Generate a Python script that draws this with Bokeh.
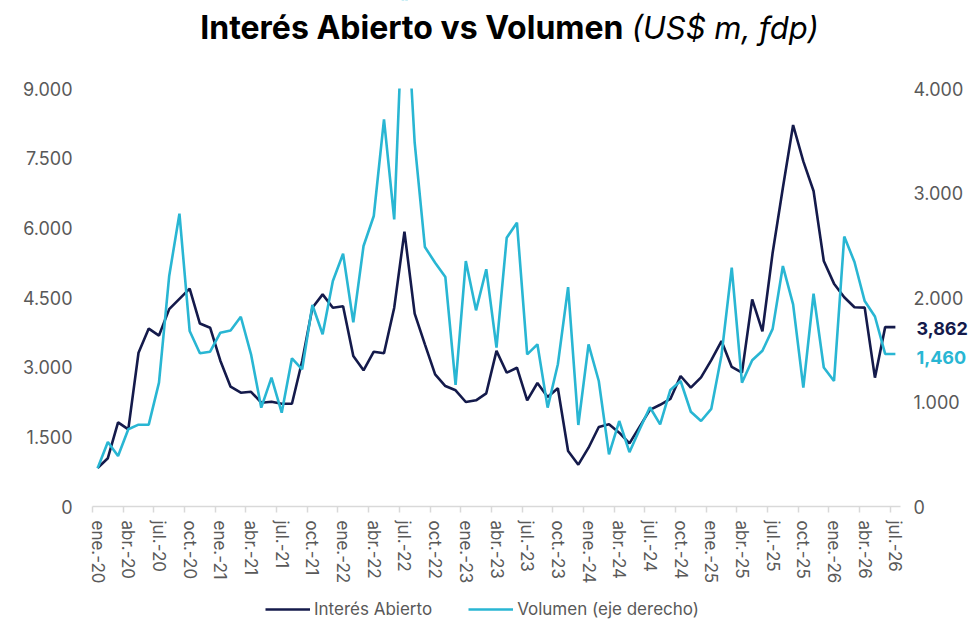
from bokeh.plotting import figure
from bokeh.models import Range1d, LinearAxis, FixedTicker, Label, Legend, LegendItem, BoxAnnotation
from bokeh.embed import file_html
from bokeh.resources import INLINE

# Monthly data, ene-20 .. jul-26
interes = [830, 1040, 1810, 1660, 3310, 3830, 3680, 4250, 4470, 4690, 3940, 3850,
           3140, 2580, 2450, 2470, 2235, 2257, 2213, 2213, 3133, 4281, 4568, 4281,
           4310, 3240, 2932, 3333, 3298, 4281, 5917, 4151, 3492, 2846, 2594, 2502,
           2250, 2286, 2437, 3350, 2881, 2988, 2286, 2659, 2358, 2545, 1195, 900,
           1266, 1712, 1769, 1589, 1360, 1720, 2080, 2190, 2315, 2810, 2558, 2780,
           3150, 3563, 3005, 2881, 4461, 3770, 5465, 6864, 8214, 7430, 6793, 5286,
           4798, 4505, 4290, 4281, 2774, 3862, 3862]
volumen = [366, 617, 483, 739, 783, 783, 1185, 2206, 2802, 1679, 1466, 1481,
           1663, 1685, 1816, 1456, 946, 1233, 898, 1418, 1313, 1928, 1648, 2158,
           2419, 1762, 2493, 2780, 3705, 2748, 5200, 3481, 2483, 2333, 2196, 1163,
           2349, 1877, 2270, 1520, 2572, 2716, 1456, 1552, 946, 1361, 2100, 780,
           1552, 1201, 499, 818, 520, 739, 950, 786, 1115, 1201, 907, 818,
           935, 1448, 2285, 1185, 1399, 1490, 1700, 2301, 1935, 1137, 2036, 1330,
           1201, 2583, 2340, 1966, 1818, 1460, 1460]
tick_labels = ["ene.-20", "abr.-20", "jul.-20", "oct.-20", "ene.-21", "abr.-21", "jul.-21",
               "oct.-21", "ene.-22", "abr.-22", "jul.-22", "oct.-22", "ene.-23", "abr.-23",
               "jul.-23", "oct.-23", "ene.-24", "abr.-24", "jul.-24", "oct.-24", "ene.-25",
               "abr.-25", "jul.-25", "oct.-25", "ene.-26", "abr.-26", "jul.-26"]
left_ticks = [0, 1500, 3000, 4500, 6000, 7500, 9000]
right_ticks = [0, 1000, 2000, 3000, 4000]
title_main = "Interés Abierto vs Volumen"
title_unit = "(US$ m, fdp)"
series_names = ["Interés Abierto", "Volumen (eje derecho)"]

n = len(interes)
x = list(range(n))
label_pos = [3 * i for i in range(len(tick_labels))]
bound_pos = [3 * i - 0.5 for i in range(len(tick_labels))]

NAVY = "#141a4b"
CYAN = "#29b6d3"
GRAY = "#595959"
AXIS = "#d9d9d9"
FONT = "Inter"

# Layout (pixels): the whole canvas is the drawing area; the data area sits inside it
W, H = 976, 622
LEFT, TOP = 92, 88
FW, FH = 808, 418
LMAX, RMAX = 9000, 4000

mw = FW / n
pl = LMAX / FH
pr = RMAX / FH
x_start = -0.5 - LEFT / mw
x_end = x_start + W / mw
below = H - TOP - FH


def fmt(v):
    return f"{v:,}".replace(",", ".")


p = figure(frame_width=W, frame_height=H, min_border=0,
           x_range=Range1d(x_start, x_end),
           y_range=Range1d(-below * pl, LMAX + TOP * pl),
           x_axis_location=None, y_axis_location=None,
           output_backend="svg", toolbar_location=None)
p.extra_y_ranges = {"vol": Range1d(-below * pr, RMAX + TOP * pr)}
p.outline_line_color = None
p.grid.visible = False

r1 = p.line(x, interes, line_color=NAVY, line_width=2.6)
r2 = p.line(x, volumen, line_color=CYAN, line_width=2.6, y_range_name="vol")

# values above the top of the scale are cut off, as in the original chart
p.add_layout(BoxAnnotation(bottom=LMAX, top=LMAX * 3, left=x_start - 5, right=x_end + 5,
                           fill_color="white", fill_alpha=1.0,
                           line_color=None, level="glyph"))

xa = LinearAxis(fixed_location=0, bounds=(-0.5, n - 0.5),
                ticker=FixedTicker(ticks=label_pos, minor_ticks=bound_pos),
                major_label_overrides={pos: lab for pos, lab in zip(label_pos, tick_labels)},
                major_label_orientation="vertical",
                major_tick_line_color=None, major_tick_out=6, major_tick_in=0,
                minor_tick_line_color=AXIS, minor_tick_out=6, minor_tick_in=0,
                minor_tick_line_width=1.5,
                axis_line_color=AXIS, axis_line_width=1.5,
                major_label_standoff=8, major_label_text_font=FONT,
                major_label_text_font_size="17px", major_label_text_color=GRAY)
p.add_layout(xa, "below")

ya = LinearAxis(fixed_location=-0.5, bounds=(0, LMAX),
                ticker=FixedTicker(ticks=left_ticks),
                major_label_overrides={tk: fmt(tk) for tk in left_ticks},
                axis_line_color=None, major_tick_line_color=None, minor_tick_line_color=None,
                major_label_standoff=14, major_label_text_font=FONT,
                major_label_text_font_size="18px", major_label_text_color=GRAY)
p.add_layout(ya, "left")

ra = LinearAxis(y_range_name="vol", fixed_location=n - 0.5, bounds=(0, RMAX),
                ticker=FixedTicker(ticks=right_ticks),
                major_label_overrides={tk: fmt(tk) for tk in right_ticks},
                axis_line_color=None, major_tick_line_color=None, minor_tick_line_color=None,
                major_label_standoff=7, major_label_text_font=FONT,
                major_label_text_font_size="18px", major_label_text_color=GRAY)
p.add_layout(ra, "right")

# End-value labels
p.add_layout(Label(x=x[-1], y=interes[-1], x_offset=21, y_offset=-1,
                   text=f"{interes[-1]:,}", text_font=FONT, text_font_size="18px",
                   text_font_style="bold", text_color=NAVY, text_baseline="middle"))
p.add_layout(Label(x=x[-1], y=volumen[-1], y_range_name="vol", x_offset=21, y_offset=-4,
                   text=f"{volumen[-1]:,}", text_font=FONT, text_font_size="18px",
                   text_font_style="bold", text_color=CYAN, text_baseline="middle"))

# Title (bold + italic parts)
p.add_layout(Label(x=623, y=H - 27, x_units="screen", y_units="screen",
                   text=title_main, text_font=FONT, text_font_size="32px",
                   text_font_style="bold", text_color="black", text_align="right",
                   text_baseline="middle"))
p.add_layout(Label(x=631, y=H - 27, x_units="screen", y_units="screen",
                   text=title_unit, text_font=FONT, text_font_size="31px",
                   text_font_style="italic", text_color="black", text_align="left",
                   text_baseline="middle"))

legend = Legend(items=[LegendItem(label=series_names[0], renderers=[r1]),
                       LegendItem(label=series_names[1], renderers=[r2])],
                location=(265, 3), orientation="horizontal",
                border_line_color=None, background_fill_alpha=0,
                glyph_width=45, glyph_height=20, label_height=20, label_standoff=4,
                spacing=36, padding=0, margin=0,
                label_text_font=FONT, label_text_font_size="17px", label_text_color=GRAY)
p.add_layout(legend)

open("out.html", "w").write(file_html(p, INLINE))
